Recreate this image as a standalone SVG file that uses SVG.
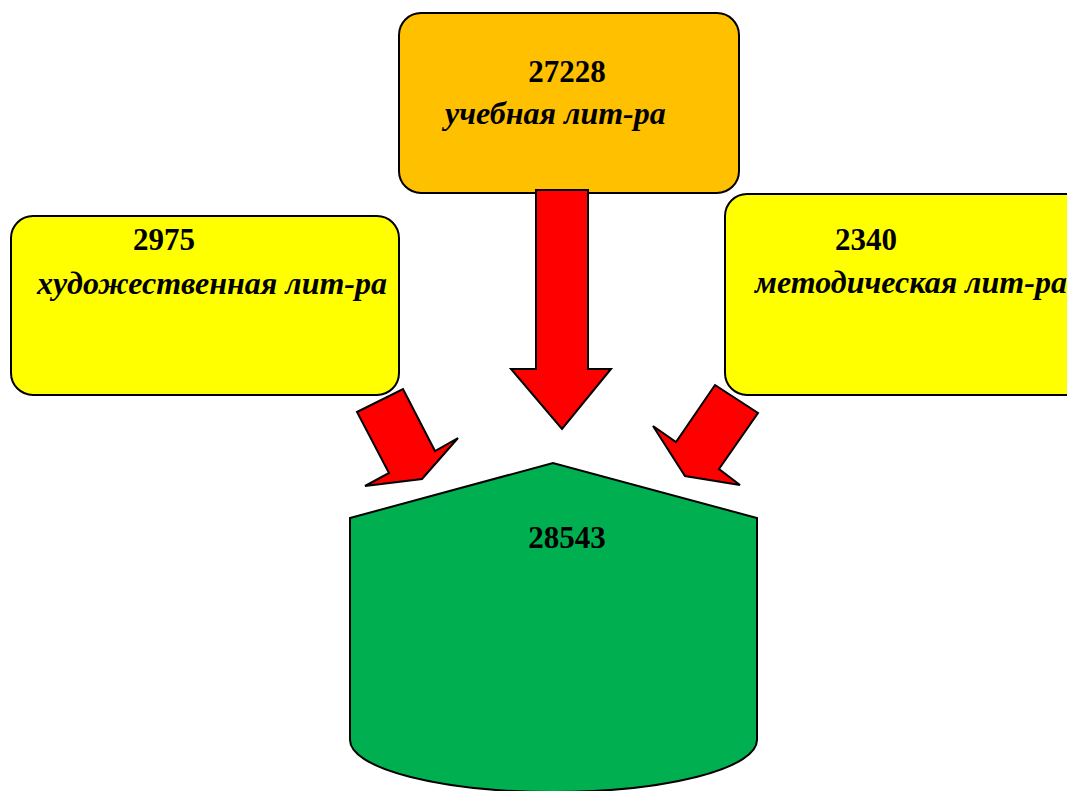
<svg xmlns="http://www.w3.org/2000/svg" width="1067" height="791" viewBox="0 0 1067 791">
<style>
.box{stroke:#000;stroke-width:2}
.arr{fill:#FF0000;stroke:#000;stroke-width:2;stroke-linejoin:miter}
.num{font-family:"Liberation Serif","Times New Roman",serif;font-weight:bold;font-size:31px;fill:#000}
.lbl{font-family:"Liberation Serif","Times New Roman",serif;font-weight:bold;font-style:italic;font-size:32px;fill:#000}
</style>
<rect width="1067" height="791" fill="#fff"/>
<g id="node-total">
<path class="box" fill="#00B050" d="M350,518 L553,463 L757,518 L757,740 A203.5,52 0 0 1 350,740 Z"/>
<text class="num" x="567" y="548" text-anchor="middle">28543</text>
</g>
<g id="node-uchebnaya">
<rect class="box" fill="#FFC000" x="399" y="13" width="340" height="180" rx="22"/>
<text class="num" x="567" y="82" text-anchor="middle">27228</text>
<text class="lbl" x="445" y="124">учебная лит-ра</text>
</g>
<g id="node-hudozh">
<rect class="box" fill="#FFFF00" x="11" y="216" width="388" height="179" rx="22"/>
<text class="num" x="133" y="250">2975</text>
<text class="lbl" x="37" y="294">художественная лит-ра</text>
</g>
<g id="node-metod">
<rect class="box" fill="#FFFF00" x="725" y="194" width="370" height="201" rx="22"/>
<text class="num" x="835" y="250">2340</text>
<text class="lbl" x="755" y="293">методическая лит-ра</text>
</g>
<g id="connectors">
<polygon class="arr" points="536,190 588,190 588,369 611,369 562,429 511,369 536,369"/>
<polygon class="arr" points="357,412 403,389 435,451 458,438 422,479 365,486 389,473"/>
<polygon class="arr" points="715,385 758,413 719,469 740,485 685,476 653,426 676,442"/>
</g>
</svg>
